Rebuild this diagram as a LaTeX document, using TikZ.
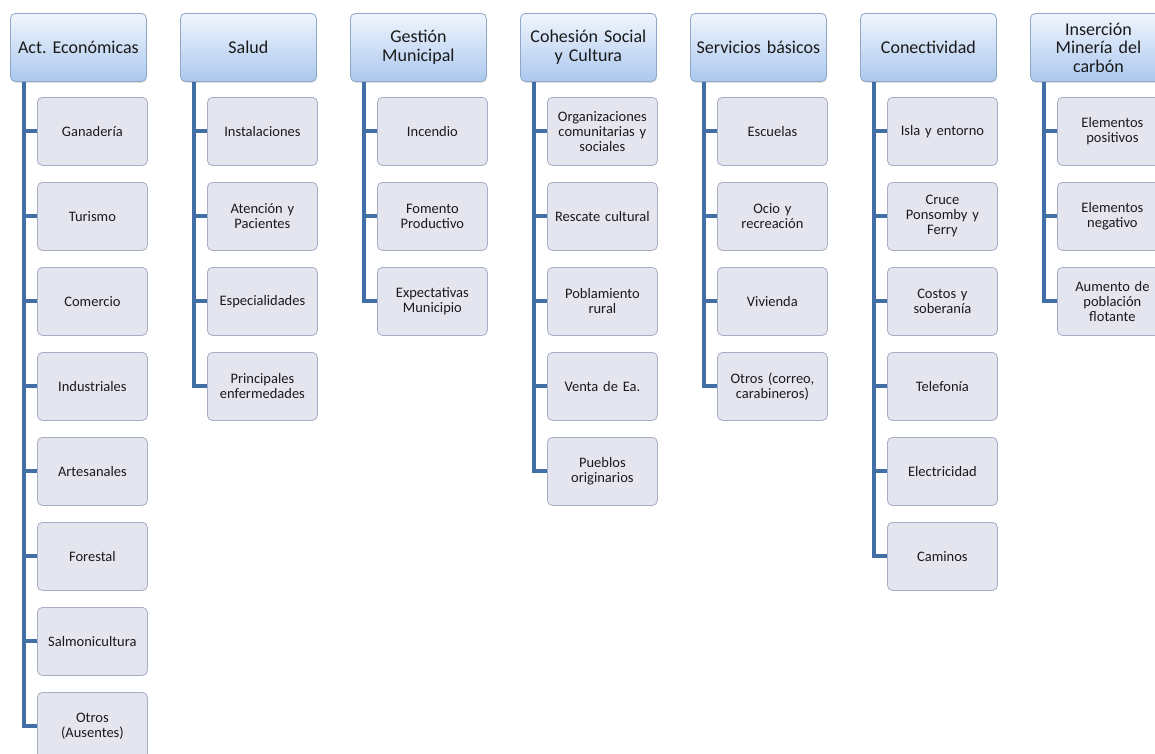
\documentclass[tikz,border=0pt]{standalone}
\usepackage{fontspec}
\setmainfont{Carlito}
\usetikzlibrary{shadows}
\definecolor{htop}{HTML}{F0F5FD}
\definecolor{hbot}{HTML}{ACC8EE}
\definecolor{hdraw}{HTML}{8FA8C8}
\definecolor{kfill}{HTML}{E5E5F0}
\definecolor{kdraw}{HTML}{A5AEC4}
\definecolor{trunk}{HTML}{4270A6}
\definecolor{txt}{HTML}{1A1A1A}
\tikzset{
  headbox/.style={anchor=north west, rounded corners=5pt, draw=hdraw, line width=0.8pt,
    top color=htop, bottom color=hbot, minimum width=136pt, minimum height=68pt,
    text width=130pt, align=center, inner sep=2pt, text=txt,
    font=\fontsize{18}{18.5}\selectfont\frenchspacing,
    drop shadow={shadow xshift=0.6pt, shadow yshift=-1.5pt, opacity=0.25}},
  kidbox/.style={anchor=north west, rounded corners=5pt, draw=kdraw, line width=0.8pt,
    fill=kfill, minimum width=110pt, minimum height=68pt,
    text width=106pt, align=center, inner sep=2pt, text=txt,
    font=\fontsize{14.5}{15}\selectfont\frenchspacing},
  conn/.style={draw=trunk, line width=3.2pt}
}
\newcommand\kid[4]{%
  \draw[conn] ([xshift=14pt]#3.south west) |- ({37+170*#1},{131+85*(#2-1)});
  \node[kidbox] (k#1x#2) at ({37+170*#1},{97+85*(#2-1)}) {#4};
}
\begin{document}
\begin{tikzpicture}[x=1pt,y=-1pt]
\useasboundingbox (0,0) rectangle (1155,753);
\fill[white] (0,0) rectangle (1155,753);
\clip (0,0) rectangle (1155,753);
\node[headbox] (h0) at (10,13) {Act. Económicas};
\node[headbox] (h1) at (180,13) {Salud};
\node[headbox] (h2) at (350,13) {Gestión\\Municipal};
\node[headbox] (h3) at (520,13) {Cohesión Social\\y Cultura};
\node[headbox] (h4) at (690,13) {Servicios básicos};
\node[headbox] (h5) at (860,13) {Conectividad};
\node[headbox] (h6) at (1030,13) {Inserción\\Minería del\\carbón};
% column 0
\kid{0}{1}{h0}{Ganadería}
\kid{0}{2}{h0}{Turismo}
\kid{0}{3}{h0}{Comercio}
\kid{0}{4}{h0}{Industriales}
\kid{0}{5}{h0}{Artesanales}
\kid{0}{6}{h0}{Forestal}
\kid{0}{7}{h0}{Salmonicultura}
\kid{0}{8}{h0}{Otros\\(Ausentes)}
% column 1
\kid{1}{1}{h1}{Instalaciones}
\kid{1}{2}{h1}{Atención y\\Pacientes}
\kid{1}{3}{h1}{Especialidades}
\kid{1}{4}{h1}{Principales\\enfermedades}
% column 2
\kid{2}{1}{h2}{Incendio}
\kid{2}{2}{h2}{Fomento\\Productivo}
\kid{2}{3}{h2}{Expectativas\\Municipio}
% column 3
\kid{3}{1}{h3}{Organizaciones\\comunitarias y\\sociales}
\kid{3}{2}{h3}{Rescate cultural}
\kid{3}{3}{h3}{Poblamiento\\rural}
\kid{3}{4}{h3}{Venta de Ea.}
\kid{3}{5}{h3}{Pueblos\\originarios}
% column 4
\kid{4}{1}{h4}{Escuelas}
\kid{4}{2}{h4}{Ocio y\\recreación}
\kid{4}{3}{h4}{Vivienda}
\kid{4}{4}{h4}{Otros (correo,\\carabineros)}
% column 5
\kid{5}{1}{h5}{Isla y entorno}
\kid{5}{2}{h5}{Cruce\\Ponsomby y\\Ferry}
\kid{5}{3}{h5}{Costos y\\soberanía}
\kid{5}{4}{h5}{Telefonía}
\kid{5}{5}{h5}{Electricidad}
\kid{5}{6}{h5}{Caminos}
% column 6
\kid{6}{1}{h6}{Elementos\\positivos}
\kid{6}{2}{h6}{Elementos\\negativo}
\kid{6}{3}{h6}{Aumento de\\población\\flotante}
\end{tikzpicture}
\end{document}
